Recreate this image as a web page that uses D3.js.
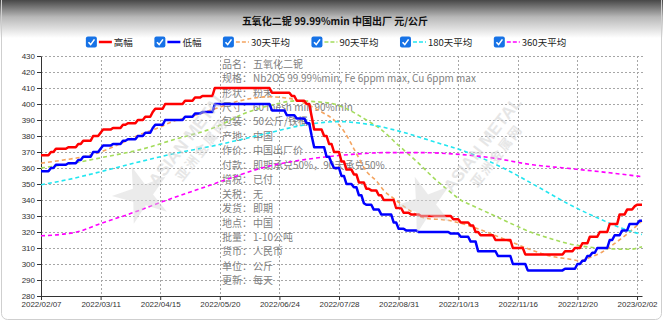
<!DOCTYPE html>
<html><head><meta charset="utf-8">
<script src="https://cdn.jsdelivr.net/npm/d3@7"></script>
<style>
html,body{margin:0;padding:0;background:#fff;}
svg{display:block;}
</style></head><body>
<svg id="c" width="663" height="324"></svg>
<script>
// ---------------- data ----------------
const titleText = "五氧化二铌 99.99%min 中国出厂 元/公斤";
const seriesNames = ["高幅","低幅","30天平均","90天平均","180天平均","360天平均"];
const xTickLabels = ["2022/02/07","2022/03/11","2022/04/15","2022/05/20","2022/06/24","2022/07/28","2022/08/31","2022/10/13","2022/11/16","2022/12/20","2023/02/02"];
const xTickDays = [0,24,48,72,96,120,144,168,192,216,240];
const yTicks = [280,290,300,310,320,330,340,350,360,370,380,390,400,410,420,430];
const nDays = 243;
// [first trading-day index, price] — price holds until next entry
const highSteps = [[0,368],[4,370],[6,372],[11,373],[15,375],[17,377],[21,380],[24,382],[25,384],[29,385],[33,387],[35,388],[39,390],[42,392],[45,395],[46,397],[50,400],[58,402],[62,404],[65,405],[70,410],[93,407],[101,405],[103,402],[107,400],[109,392],[110,384],[114,380],[116,375],[118,370],[121,364],[123,359],[126,356],[128,351],[131,347],[133,346],[136,343],[138,340],[143,335],[146,332],[149,331],[153,330],[166,328],[169,326],[173,324],[175,320],[177,318],[183,315],[190,310],[195,306],[211,308],[215,310],[218,313],[221,317],[225,320],[229,325],[233,331],[236,334],[239,336],[240,337]];
const lowSteps = [[0,358],[4,360],[6,362],[11,363],[15,365],[17,367],[21,370],[24,372],[25,374],[29,375],[33,377],[35,378],[39,380],[42,382],[45,385],[46,387],[50,390],[58,392],[62,394],[65,395],[70,400],[93,396],[99,393],[103,391],[107,388],[109,380],[110,373],[115,367],[117,363],[118,360],[121,355],[123,350],[126,348],[128,343],[130,338],[131,337],[134,334],[137,331],[142,326],[144,322],[147,321],[152,320],[165,319],[169,317],[173,314],[176,308],[184,305],[190,300],[196,296],[211,297],[216,300],[218,302],[220,305],[222,307],[224,310],[229,315],[231,318],[234,321],[237,325],[241,327]];
const ma30 = [[0,363],[9,365],[17,367],[24,370],[33,376],[40,381],[47,385],[53,389],[60,392],[70,397],[80,402],[92,404.5],[100,403.5],[106,400.5],[113,395],[118,390],[122,383],[126,372],[131,358],[135,352],[138,346],[142,341],[149,333],[155,328.5],[163,327.5],[169,325.5],[175,322.5],[181,319],[189,314],[197,309],[205,305],[213,303],[217,302],[221,304],[226,307.5],[232,314],[237,320],[242,327]];
const ma90 = [[0,360],[13,363],[26,367],[40,371.5],[53,377.5],[71,386],[81,393.5],[92,399],[103,402],[110,401.5],[118,400],[125,395.5],[131,390],[137,384],[143,375.5],[152,363],[158,354],[164,346],[170,339],[173,337],[180,332],[189,325.5],[197,320],[205,316],[213,312.5],[221,310.5],[229,309.5],[237,309.2],[242,310.8]];
const ma180 = [[0,349.5],[13,353.5],[26,358.5],[40,364],[53,368.8],[71,374.4],[81,378],[92,382],[103,386],[114,388.5],[120,389],[127,388.3],[133,387],[145,382.7],[158,376.5],[171,370.2],[180,364.5],[188,358.5],[200,348.3],[213,337],[226,327.5],[234,322.3],[242,318.4]];
const ma360 = [[0,317.6],[8,318.5],[14,319.8],[24,325.3],[36,331.5],[49,339],[63,346.5],[76,353.5],[90,360.5],[103,364.5],[115,367],[125,368.5],[139,369.6],[153,369.6],[166,368.8],[181,366.5],[198,362],[212,359.8],[229,357],[242,354.6]];
const infoLabels = ["品名：","规格：","形状：","尺寸：","包装：","产地：","作价：","付款：","增税：","关税：","发货：","地点：","批量：","货币：","单位：","更新："];
const infoValues = ["五氧化二铌","Nb2O5 99.99%min, Fe 6ppm max, Cu 6ppm max","粉末","60 mesh min 90%min","50公斤/铁桶","中国","中国出厂价","即期承兑50%，90天承兑50%","已付","无","即期","中国","1-10公吨","人民币","公斤","每天"];
const watermarkText = ["ASIAN METAL","亚洲金属网"];

// ---------------- helpers ----------------
function expandSteps(steps){
  const out=[]; let k=0;
  for(let d=0; d<nDays; d++){
    while(k+1<steps.length && steps[k+1][0]<=d) k++;
    out.push([d, steps[k][1]]);
  }
  return out;
}
const highDaily = expandSteps(highSteps);
const lowDaily = expandSteps(lowSteps);

const W=663, H=324;
const m = {left:41, right:21, top:56, bottom:28};
const svg = d3.select("#c");
const FONT = "'Noto Sans CJK SC','Noto Sans',sans-serif";

// background shading at top
const defs = svg.append("defs");
const g1 = defs.append("linearGradient").attr("id","topg").attr("x1",0).attr("y1",0).attr("x2",0).attr("y2",1);
g1.append("stop").attr("offset","0").attr("stop-color","#474747");
g1.append("stop").attr("offset","0.45").attr("stop-color","#b8b8b8");
g1.append("stop").attr("offset","1").attr("stop-color","#ffffff");
svg.append("rect").attr("x",0).attr("y",0).attr("width",W).attr("height",38).attr("fill","url(#topg)");
svg.append("rect").attr("x",1.5).attr("y",-20).attr("width",W-3).attr("height",339.5).attr("rx",6)
  .attr("fill","none").attr("stroke","#cfcfcf");

const x = d3.scaleLinear().domain([0, nDays-1]).range([m.left, W - m.right]);
const y = d3.scaleLinear().domain([280,430]).range([H - m.bottom, m.top]);

// grid
const grid = svg.append("g").attr("stroke","#a6a6a6").attr("stroke-dasharray","2,2").attr("stroke-width",1);
yTicks.filter(v=>v>280).forEach(v=>{
  grid.append("line").attr("x1",x(0)).attr("x2",W-m.right+1).attr("y1",Math.round(y(v))+0.5).attr("y2",Math.round(y(v))+0.5);
});
xTickDays.filter(d=>d>0).forEach(d=>{
  grid.append("line").attr("x1",Math.round(x(d))+0.5).attr("x2",Math.round(x(d))+0.5).attr("y1",y(430)).attr("y2",y(280));
});

// axes
const xAxis = svg.append("g").attr("transform",`translate(0,${y(280)})`)
  .call(d3.axisBottom(x).tickValues(xTickDays).tickFormat((d,i)=>xTickLabels[i]).tickSize(4).tickSizeOuter(0));
const yAxis = svg.append("g").attr("transform",`translate(${x(0)},0)`)
  .call(d3.axisLeft(y).tickValues(yTicks).tickSize(4).tickSizeOuter(0));
[xAxis,yAxis].forEach(a=>{
  a.selectAll("path.domain").attr("stroke","#333");
  a.selectAll("line").attr("stroke","#333");
  a.selectAll("text").attr("fill","#333").style("font-family","'Liberation Sans',Arial,sans-serif").style("font-size","8px");
});
xAxis.selectAll("text").attr("dy","0.9em").attr("y",4);
yAxis.selectAll("text").attr("x",-6);

// info text block
const info = svg.append("g").style("font-family",FONT).style("font-size","10px").attr("fill","#808080");
infoLabels.forEach((lab,i)=>{
  const yy = 64 + i*14.45 + 3.6;
  info.append("text").attr("x",222).attr("y",yy).text(lab);
  info.append("text").attr("x",253).attr("y",yy).text(infoValues[i]);
});

// series
const colors = ["#ff0000","#0000ff","#f4a460","#a4dc5c","#22e6f0","#ff00ff"];
const line = d3.line().x(d=>x(d[0])).y(d=>y(d[1]));
const smooth = d3.line().x(d=>x(d[0])).y(d=>y(d[1])).curve(d3.curveMonotoneX);
const plot = svg.append("g");
const maSets = [ma30, ma90, ma180, ma360];
maSets.forEach((s,i)=>{
  plot.append("path").attr("d",smooth(s)).attr("fill","none").attr("stroke",colors[i+2])
    .attr("stroke-width",1.6).attr("stroke-dasharray","4,3");
});
plot.append("path").attr("d",line(highDaily)).attr("fill","none").attr("stroke",colors[0]).attr("stroke-width",2.5).attr("stroke-linejoin","round");
plot.append("path").attr("d",line(lowDaily)).attr("fill","none").attr("stroke",colors[1]).attr("stroke-width",2.5).attr("stroke-linejoin","round");

// watermarks
function watermark(cx, cy, sx, sy){
  const wm = svg.append("g").attr("opacity",0.5).attr("pointer-events","none");
  const star = d3.range(10).map(k=>{
    const r = k%2===0 ? 30 : 11;
    const a = -Math.PI/2 + k*Math.PI/5 - 0.35;
    return [sx + r*Math.cos(a), sy + r*Math.sin(a)];
  });
  wm.append("polygon").attr("points",star.map(p=>p.join(",")).join(" ")).attr("fill","#d8d8d8");
  const t = wm.append("g").attr("transform",`translate(${cx},${cy}) rotate(-52)`);
  t.append("text").attr("text-anchor","middle").attr("y",0).style("font-family","'Liberation Sans',Arial,sans-serif")
    .style("font-weight","bold").style("font-size","17px").attr("fill","#cfcfcf").text(watermarkText[0]);
  t.append("text").attr("text-anchor","middle").attr("y",17).style("font-family",FONT)
    .style("font-weight","bold").style("font-size","13px").attr("fill","#cfcfcf").attr("letter-spacing","2px").text(watermarkText[1]);
}
watermark(192,142,142,195);
watermark(487,148,425,205);

// title
svg.append("text").attr("x",335).attr("y",25).attr("text-anchor","middle").style("font-family",FONT)
  .style("font-weight","bold").style("font-size","10px").attr("fill","#111").text(titleText);

// legend
const lg = svg.append("g").style("font-family",FONT).style("font-size","9.5px");
let items = [];
seriesNames.forEach((nm,i)=>{
  const it = lg.append("g");
  it.append("rect").attr("x",0).attr("y",-5.5).attr("width",11).attr("height",11).attr("rx",2).attr("fill","#1672e6");
  it.append("path").attr("d","M2.6,0.2 L4.8,2.6 L8.6,-2.6").attr("fill","none").attr("stroke","#fff").attr("stroke-width",1.6);
  it.append("line").attr("x1",13).attr("x2",26).attr("y1",0).attr("y2",0).attr("stroke",colors[i])
    .attr("stroke-width", i<2 ? 2.5 : 1.6).attr("stroke-dasharray", i<2 ? null : "4,2");
  const tx = it.append("text").attr("x",28).attr("y",3.5).attr("fill","#222").text(nm);
  const w = 28 + tx.node().getComputedTextLength();
  items.push({it, w});
});
const gap = 21.5;
const total = d3.sum(items, d=>d.w) + gap*(items.length-1);
let lx = 326 - total/2;
items.forEach(d=>{ d.it.attr("transform",`translate(${lx},42)`); lx += d.w + gap; });
</script>
</body></html>
